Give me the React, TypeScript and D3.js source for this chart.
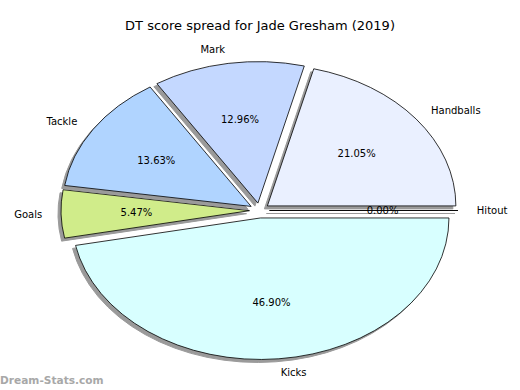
import React from 'react';
import * as d3 from 'd3';

// Slices, counter-clockwise from 3 o'clock (matplotlib order)
const labels = ['Hitout', 'Handballs', 'Mark', 'Tackle', 'Goals', 'Kicks'];
const shares = [0.0, 21.05, 12.96, 13.63, 5.47, 46.9];
const colors = ['#f0f0ff', '#eaf0ff', '#c4d8ff', '#b0d4ff', '#d0ec8a', '#d8ffff'];

const W = 520;
const H = 390;
const cx = 259.5;
const cy = 210.5;
const rx = 188.5;
const ry = 141.5;
const explode = 0.053;

const App = () => {
  const total = d3.sum(shares);
  const pie = d3.pie<number>().sort(null).value(d => d)
    .startAngle(0).endAngle(2 * Math.PI);
  const arcs = pie(shares);
  // unit arc, stretched into an ellipse
  const arc = d3.arc<any>().innerRadius(0).outerRadius(1);

  const slices = arcs.map((a, i) => {
    // pie angle -> matplotlib angle (ccw from +x)
    const t1 = a.startAngle;
    const t2 = a.endAngle;
    const mid = (t1 + t2) / 2;
    const ox = explode * rx * Math.cos(mid);
    const oy = -explode * ry * Math.sin(mid);
    const d = arc({ startAngle: Math.PI / 2 - t2, endAngle: Math.PI / 2 - t1 }) as string;
    return { i, mid, ox, oy, d, pct: (shares[i] / total) * 100 };
  });

  return (
    <svg width={W} height={H} style={{ position: 'absolute', left: 0, top: 0, background: '#fff' }}
      fontFamily="DejaVu Sans, sans-serif">
      <text x={W / 2} y={25} textAnchor="middle" dominantBaseline="central" fontSize={13} fill="#000">
        DT score spread for Jade Gresham (2019)
      </text>

      {slices.map(s => (
        <path key={'sh' + s.i} d={s.d}
          transform={`translate(${cx + s.ox - 3},${cy + s.oy + 3}) scale(${rx},${ry})`}
          fill="#9a9a9a" stroke="#9a9a9a" strokeWidth={1} vectorEffect="non-scaling-stroke" />
      ))}
      {slices.map(s => (
        <path key={'sl' + s.i} d={s.d}
          transform={`translate(${cx + s.ox},${cy + s.oy}) scale(${rx},${ry})`}
          fill={colors[s.i]} stroke="#000" strokeWidth={0.8} vectorEffect="non-scaling-stroke" />
      ))}

      {slices.map(s => {
        const c = Math.cos(s.mid);
        const lx = cx + s.ox + 1.1 * rx * c;
        const ly = cy + s.oy - 1.1 * ry * Math.sin(s.mid);
        const px = cx + s.ox + 0.6 * rx * c;
        const py = cy + s.oy - 0.6 * ry * Math.sin(s.mid);
        return (
          <g key={'t' + s.i} fontSize={10} fill="#000">
            <text x={lx} y={ly} textAnchor={c >= 0 ? 'start' : 'end'} dominantBaseline="central">
              {labels[s.i]}
            </text>
            <text x={px} y={py} textAnchor="middle" dominantBaseline="central">
              {s.pct.toFixed(2) + '%'}
            </text>
          </g>
        );
      })}

      <text x={0} y={384} fontSize={10.6} fontWeight="bold" fill="#a8a8a8">Dream-Stats.com</text>
    </svg>
  );
};

export default App;
